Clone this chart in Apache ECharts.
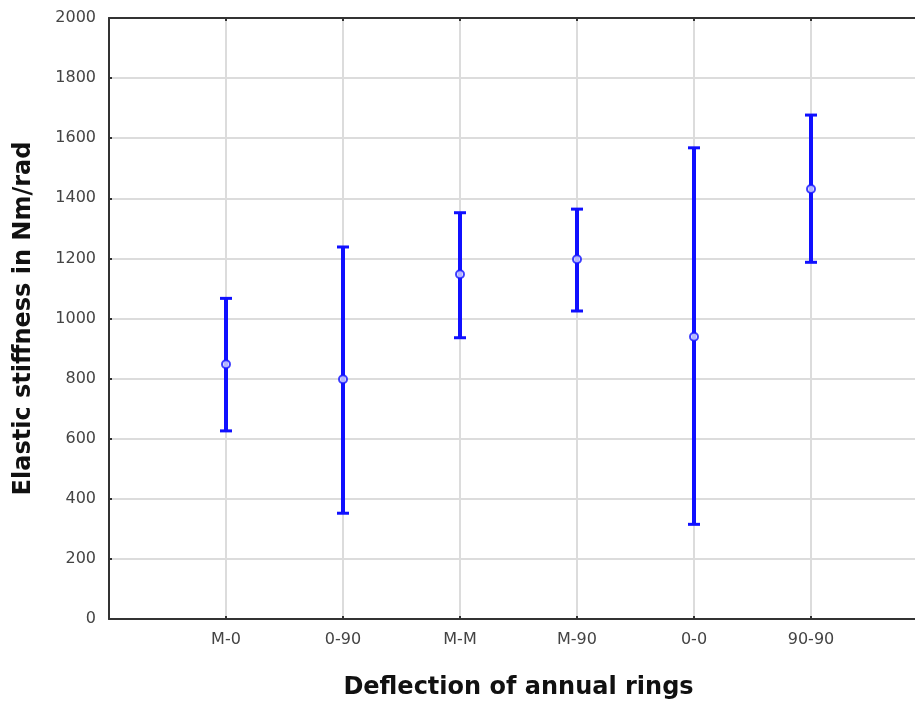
<!DOCTYPE html>
<html><head><meta charset="utf-8">
<script src="https://cdn.jsdelivr.net/npm/echarts@6/dist/echarts.min.js"></script>
<style>html,body{margin:0;padding:0;background:#fff;overflow:hidden}#c{width:915px;height:704px}</style>
</head><body><div id="c"></div>
<script>
const categories = ['M-0', '0-90', 'M-M', 'M-90', '0-0', '90-90'];
const means = [848, 798, 1147, 1197, 939, 1431];
const lows = [626, 352, 936, 1025, 315, 1187];
const highs = [1067, 1238, 1352, 1364, 1568, 1677];
const yTicks = [0, 200, 400, 600, 800, 1000, 1200, 1400, 1600, 1800, 2000];

const chart = echarts.init(document.getElementById('c'));
const blue = '#1010ff';
const font = 'DejaVu Sans';
const labelFmt = v => (Number.isInteger(v) && v >= 1 && v <= categories.length) ? categories[v - 1] : '';
chart.setOption({
  animation: false,
  grid: { left: 109, width: 819, top: 18, height: 601, containLabel: false, outerBoundsMode: 'none' },
  xAxis: [{
    type: 'value', min: 0, max: 7, interval: 1, position: 'bottom',
    name: 'Deflection of annual rings', nameLocation: 'middle', nameGap: 57,
    nameTextStyle: { fontFamily: font, fontWeight: 'bold', fontSize: 24, color: '#111' },
    axisLine: { show: true, lineStyle: { color: '#333', width: 2 } },
    axisTick: { show: true, inside: true, length: 3, lineStyle: { color: '#333', width: 2 } },
    axisLabel: { formatter: labelFmt, fontFamily: font, fontSize: 16, color: '#444', margin: 13 },
    splitLine: { show: true, lineStyle: { color: '#dcdcdc', width: 2 } }
  }, {
    type: 'value', min: 0, max: 7, interval: 1, position: 'top',
    axisLine: { show: true, lineStyle: { color: '#333', width: 2 } },
    axisTick: { show: true, inside: true, length: 3, lineStyle: { color: '#333', width: 2 } },
    axisLabel: { show: false }, splitLine: { show: false }
  }],
  yAxis: {
    type: 'value', min: 0, max: 2000, interval: 200,
    name: 'Elastic stiffness in Nm/rad', nameLocation: 'middle', nameGap: 73, nameRotate: 90,
    nameTextStyle: { fontFamily: font, fontWeight: 'bold', fontSize: 24, color: '#111' },
    axisLine: { show: true, lineStyle: { color: '#333', width: 2 } },
    axisTick: { show: true, inside: true, length: 3, lineStyle: { color: '#333', width: 2 } },
    axisLabel: { fontFamily: font, fontSize: 16, color: '#444', margin: 13,
      formatter: v => yTicks.includes(v) ? String(v) : '' },
    splitLine: { show: true, lineStyle: { color: '#dcdcdc', width: 2 } }
  },
  series: [{
    type: 'custom',
    data: categories.map((c, i) => [i + 1, lows[i], highs[i]]),
    renderItem: (params, api) => {
      const x = api.value(0);
      const lo = api.coord([x, api.value(1)]);
      const hi = api.coord([x, api.value(2)]);
      const hw = 6;
      return { type: 'group', children: [
        { type: 'line', shape: { x1: lo[0], y1: lo[1], x2: hi[0], y2: hi[1] }, style: { stroke: blue, lineWidth: 4 } },
        { type: 'line', shape: { x1: lo[0] - hw, y1: lo[1], x2: lo[0] + hw, y2: lo[1] }, style: { stroke: blue, lineWidth: 3 } },
        { type: 'line', shape: { x1: hi[0] - hw, y1: hi[1], x2: hi[0] + hw, y2: hi[1] }, style: { stroke: blue, lineWidth: 3 } }
      ]};
    },
    z: 3
  }, {
    type: 'scatter',
    data: categories.map((c, i) => [i + 1, means[i]]),
    symbol: 'circle', symbolSize: 8,
    itemStyle: { color: '#dde0ff', borderColor: blue, borderWidth: 2 },
    z: 4
  }]
});
</script></body></html>
